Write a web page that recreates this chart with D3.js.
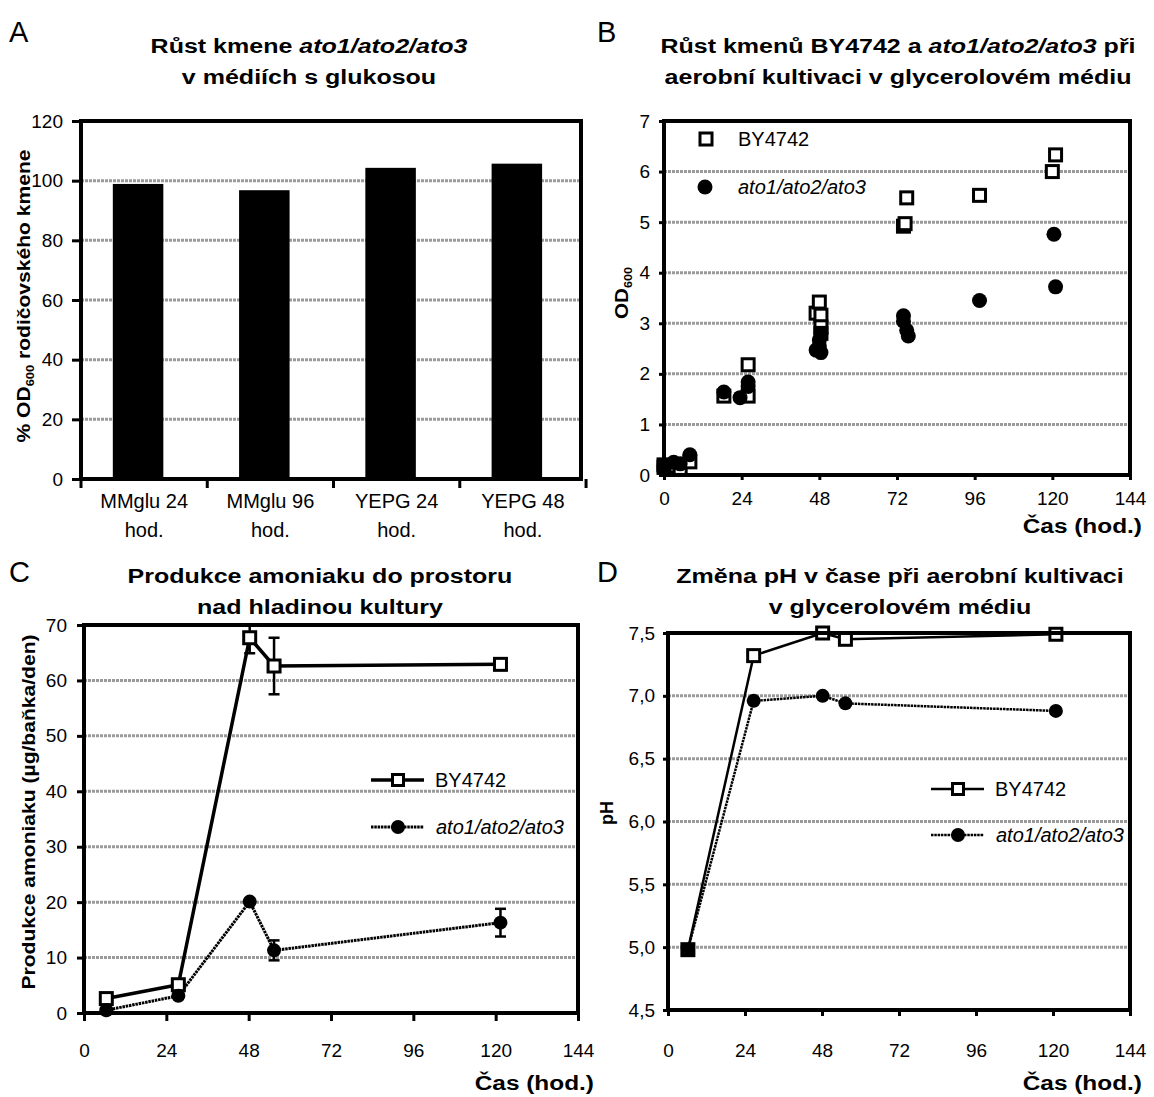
<!DOCTYPE html>
<html>
<head>
<meta charset="utf-8">
<script src="https://cdn.jsdelivr.net/npm/d3@7"></script>
<style>
  body { margin: 0; background: #fff; }
  text { font-family: "Liberation Sans", Arial, sans-serif; fill: #000; }
</style>
</head>
<body>
<script>
// Panel A - growth of ato1/ato2/ato3 in glucose media (% of parent strain OD600)
const catA = [["MMglu 24", "hod."], ["MMglu 96", "hod."], ["YEPG 24", "hod."], ["YEPG 48", "hod."]];
const valA = [98.9, 96.8, 104.3, 105.7];

// Panel B - OD600 in glycerol medium, scatter
const timeBY = [0, 0, 3, 5, 8, 18.5, 26, 26, 47, 48, 48.5, 48.5, 48.5, 74, 74.5, 75, 97.5, 120, 121];
const odBY = [0.2, 0.15, 0.18, 0.13, 0.26, 1.56, 1.56, 2.18, 3.2, 3.42, 3.16, 2.93, 2.8, 4.92, 4.97, 5.48, 5.53, 6.0, 6.33];
const timeAto = [0, 0, 3, 5, 8, 18.5, 23.5, 26, 26, 47, 48, 48, 48.5, 48.5, 74, 74, 75, 75.5, 97.5, 120.5, 121];
const odAto = [0.18, 0.12, 0.25, 0.22, 0.4, 1.64, 1.53, 1.84, 1.75, 2.47, 2.67, 2.55, 2.8, 2.42, 3.15, 3.04, 2.86, 2.75, 3.45, 4.76, 3.72];

// Panel C - ammonia production
const timeC = [6.5, 27.5, 48.3, 55.4, 121.4];
const nh3BY = [2.6, 5.1, 67.7, 62.6, 62.9];
const nh3BYErr = [0.4, 0.4, 2.8, 5.1, 0.4];
const nh3Ato = [0.5, 3.1, 20.1, 11.3, 16.3];
const nh3AtoErr = [0.4, 0.4, 0.5, 1.8, 2.5];

// Panel D - pH
const timeD = [6.2, 26.7, 48.2, 55.3, 120.9];
const phBY = [4.98, 7.32, 7.50, 7.45, 7.49];
const phAto = [4.98, 6.96, 7.00, 6.94, 6.88];

const timeTicks = [0, 24, 48, 72, 96, 120, 144];

const svg = d3.select("body").append("svg")
    .attr("width", 1154)
    .attr("height", 1097);

const FONT = 19;
const GRID = "#9a9a9a";

// widen text the way the original (Excel) rendering does
function stretch(sel, k) {
    sel.each(function() {
        const L = this.getComputedTextLength();
        this.setAttribute("textLength", L * k);
        this.setAttribute("lengthAdjust", "spacingAndGlyphs");
    });
}

// draws gridlines, ticks and tick labels for one panel
function frame(x, y, yTicks, yFmt, opt) {
    const g = svg.append("g");
    const [xl, xr] = x.range();
    const [yb, yt] = y.range();

    g.selectAll(".grid").data(yTicks.filter(d => y(d) > yt + 1 && y(d) < yb - 1))
        .enter().append("line")
        .attr("x1", xl).attr("x2", xr)
        .attr("y1", d => y(d)).attr("y2", d => y(d))
        .style("stroke", GRID).style("stroke-width", 3)
        .style("stroke-dasharray", "3,1");

    const ya = g.append("g")
        .attr("transform", `translate(${xl},0)`)
        .call(d3.axisLeft(y).tickValues(yTicks).tickFormat(yFmt).tickSize(opt.yTick).tickSizeOuter(0));
    ya.select(".domain").remove();
    ya.selectAll(".tick line").style("stroke-width", 3);
    ya.selectAll("text").style("font-size", FONT + "px").attr("x", -opt.yGap);

    if (opt.xTicks) {
        const xa = g.append("g")
            .attr("transform", `translate(0,${yb})`)
            .call(d3.axisBottom(x).tickValues(opt.xTicks).tickSize(opt.xTick).tickSizeOuter(0));
        xa.select(".domain").remove();
        xa.selectAll(".tick line").style("stroke-width", 3);
        xa.selectAll("text").style("font-size", FONT + "px")
            .attr("dy", null).attr("y", opt.xBase);
    }
    return g;
}

function border(x, y) {
    const [xl, xr] = x.range();
    const [yb, yt] = y.range();
    svg.append("rect")
        .attr("x", xl).attr("y", yt)
        .attr("width", xr - xl).attr("height", yb - yt)
        .style("fill", "none").style("stroke", "#000").style("stroke-width", 4);
}

function title(lines, cx, y0) {
    lines.forEach((parts, i) => {
        const t = svg.append("text")
            .attr("x", cx).attr("y", y0 + i * 31)
            .attr("text-anchor", "middle")
            .style("font-size", "20px").style("font-weight", "bold");
        parts.forEach(p => {
            const ts = t.append("tspan").text(p.t);
            if (p.i) ts.style("font-style", "italic");
        });
        stretch(t, 1.25);
    });
}

function letter(s, x, y) {
    svg.append("text").attr("x", x).attr("y", y)
        .style("font-size", "29px").text(s);
}

function xTitle(x, y) {
    const t = svg.append("text")
        .attr("x", x).attr("y", y)
        .attr("text-anchor", "end")
        .style("font-size", "20px").style("font-weight", "bold")
        .text("Čas (hod.)");
    stretch(t, 1.22);
}

function yTitle(x, y) {
    return svg.append("text")
        .attr("transform", `translate(${x},${y}) rotate(-90)`)
        .attr("text-anchor", "middle")
        .style("font-size", "18px").style("font-weight", "bold");
}

function squares(sel, data, size) {
    sel.selectAll(null).data(data).enter().append("rect")
        .attr("x", d => d[0] - size / 2).attr("y", d => d[1] - size / 2)
        .attr("width", size).attr("height", size)
        .style("fill", "#fff").style("stroke", "#000").style("stroke-width", 3);
}

function dots(sel, data, r) {
    sel.selectAll(null).data(data).enter().append("circle")
        .attr("cx", d => d[0]).attr("cy", d => d[1]).attr("r", r)
        .style("fill", "#000");
}

// ---------------- Panel A ----------------
const xA = d3.scaleBand().domain(d3.range(catA.length)).range([81, 581])
    .paddingInner(0.6).paddingOuter(0.28).align(0.45);
const yA = d3.scaleLinear().domain([0, 120]).range([479, 121]);

frame(xA, yA, d3.range(0, 121, 20), d3.format("d"), {yTick: 9, yGap: 18});

svg.append("g").selectAll("rect").data(valA).enter().append("rect")
    .attr("x", (d, i) => xA(i)).attr("width", xA.bandwidth())
    .attr("y", d => yA(d)).attr("height", d => yA(0) - yA(d))
    .style("fill", "#000");

// category boundary ticks
svg.append("g").selectAll("line").data(d3.range(catA.length + 1)).enter().append("line")
    .attr("x1", i => 81 + i * xA.step()).attr("x2", i => 81 + i * xA.step())
    .attr("y1", 479).attr("y2", 488)
    .style("stroke", "#000").style("stroke-width", 3);

const labA = svg.append("g").selectAll("text").data(catA).enter().append("text")
    .attr("text-anchor", "middle")
    .style("font-size", "20px");
labA.append("tspan").attr("x", (d, i) => 81 + (i + 0.5) * xA.step()).attr("y", 508).text(d => d[0]);
labA.append("tspan").attr("x", (d, i) => 81 + (i + 0.5) * xA.step()).attr("y", 537).text(d => d[1]);

border(xA, yA);
letter("A", 9, 42);
title([[{t: "Růst kmene  "}, {t: "ato1/ato2/ato3", i: true}], [{t: "v médiích s glukosou"}]], 309, 53);

const ylabA = yTitle(30, 296);
ylabA.append("tspan").text("% OD");
ylabA.append("tspan").text("600").style("font-size", "11px").attr("dy", 4);
ylabA.append("tspan").text(" rodičovského kmene").attr("dy", -4);
stretch(ylabA, 1.17);

// ---------------- Panel B ----------------
const xB = d3.scaleLinear().domain([0, 144]).range([664, 1130]);
const yB = d3.scaleLinear().domain([0, 7]).range([475, 121]);

frame(xB, yB, d3.range(0, 8), d3.format("d"), {yTick: 5, yGap: 14, xTicks: timeTicks, xTick: 5, xBase: 30});

const gB = svg.append("g");
squares(gB, timeBY.map((t, i) => [xB(t), yB(odBY[i])]), 12);
dots(gB, timeAto.map((t, i) => [xB(t), yB(odAto[i])]), 7.5);

border(xB, yB);
letter("B", 597, 42);
title([[{t: "Růst kmenů BY4742 a "}, {t: "ato1/ato2/ato3", i: true}, {t: " při"}],
       [{t: "aerobní kultivaci v glycerolovém médiu"}]], 898, 53);
xTitle(1142, 533);

const ylabB = yTitle(628, 293);
ylabB.append("tspan").text("OD");
ylabB.append("tspan").text("600").style("font-size", "11px").attr("dy", 4);
stretch(ylabB, 1.15);

// legend B
const legB = svg.append("g");
squares(legB, [[706, 139]], 12);
dots(legB, [[705, 187]], 7.5);
legB.append("text").attr("x", 738).attr("y", 146).style("font-size", "20px").text("BY4742");
legB.append("text").attr("x", 738).attr("y", 194).style("font-size", "20px")
    .style("font-style", "italic").text("ato1/ato2/ato3");

// ---------------- Panel C ----------------
const xC = d3.scaleLinear().domain([0, 144]).range([84, 578]);
const yC = d3.scaleLinear().domain([0, 70]).range([1013, 625]);

frame(xC, yC, d3.range(0, 71, 10), d3.format("d"), {yTick: 7, yGap: 17, xTicks: timeTicks, xTick: 8, xBase: 44});

const lineC = d3.line().x(d => xC(d[0])).y(d => yC(d[1]));
const ptsCBY = timeC.map((t, i) => [t, nh3BY[i], nh3BYErr[i]]);
const ptsCAto = timeC.map((t, i) => [t, nh3Ato[i], nh3AtoErr[i]]);

function errBars(pts, x, y) {
    const g = svg.append("g").style("stroke", "#000").style("stroke-width", 2.5);
    pts.forEach(p => {
        const top = Math.min(p[1] + p[2], y.domain()[1]);
        g.append("line").attr("x1", x(p[0])).attr("x2", x(p[0]))
            .attr("y1", y(p[1] - p[2])).attr("y2", y(top));
        [p[1] - p[2], top].forEach(v => g.append("line")
            .attr("x1", x(p[0]) - 5.5).attr("x2", x(p[0]) + 5.5)
            .attr("y1", y(v)).attr("y2", y(v)));
    });
}

errBars(ptsCBY, xC, yC);
errBars(ptsCAto, xC, yC);

svg.append("path").datum(ptsCBY).attr("d", lineC)
    .style("fill", "none").style("stroke", "#000").style("stroke-width", 3.5);
svg.append("path").datum(ptsCAto).attr("d", lineC)
    .style("fill", "none").style("stroke", "#000").style("stroke-width", 3)
    .style("stroke-dasharray", "2.5,0.8");

squares(svg.append("g"), ptsCBY.map(p => [xC(p[0]), yC(p[1])]), 12);
dots(svg.append("g"), ptsCAto.map(p => [xC(p[0]), yC(p[1])]), 7);

border(xC, yC);
letter("C", 9, 582);
title([[{t: "Produkce amoniaku do prostoru"}], [{t: "nad hladinou kultury"}]], 320, 583);
xTitle(594, 1090);

stretch(yTitle(35, 812).text("Produkce amoniaku (µg/baňka/den)"), 1.17);

function legendLines(lx, ly, gap, thickBY, thickAto) {
    const g = svg.append("g");
    g.append("line").attr("x1", lx).attr("x2", lx + 53).attr("y1", ly).attr("y2", ly)
        .style("stroke", "#000").style("stroke-width", thickBY);
    g.append("line").attr("x1", lx).attr("x2", lx + 53).attr("y1", ly + gap).attr("y2", ly + gap)
        .style("stroke", "#000").style("stroke-width", thickAto).style("stroke-dasharray", "2.5,0.8");
    squares(g, [[lx + 27, ly]], 11);
    dots(g, [[lx + 27, ly + gap]], 7);
    g.append("text").attr("x", lx + 64).attr("y", ly + 7).style("font-size", "20px").text("BY4742");
    g.append("text").attr("x", lx + 65).attr("y", ly + gap + 7).style("font-size", "20px")
        .style("font-style", "italic").text("ato1/ato2/ato3");
}

legendLines(371, 780, 47, 3.5, 3);

// ---------------- Panel D ----------------
const xD = d3.scaleLinear().domain([0, 144]).range([668, 1130]);
const yD = d3.scaleLinear().domain([4.5, 7.5]).range([1010, 633]);

frame(xD, yD, d3.range(4.5, 7.51, 0.5), d => d3.format(".1f")(d).replace(".", ","),
    {yTick: 5, yGap: 13, xTicks: timeTicks, xTick: 6, xBase: 47});

const lineD = d3.line().x(d => xD(d[0])).y(d => yD(d[1]));
const ptsDBY = timeD.map((t, i) => [t, phBY[i]]);
const ptsDAto = timeD.map((t, i) => [t, phAto[i]]);

svg.append("path").datum(ptsDBY).attr("d", lineD)
    .style("fill", "none").style("stroke", "#000").style("stroke-width", 2.5);
svg.append("path").datum(ptsDAto).attr("d", lineD)
    .style("fill", "none").style("stroke", "#000").style("stroke-width", 2.5)
    .style("stroke-dasharray", "2.5,0.8");

squares(svg.append("g"), ptsDBY.map(p => [xD(p[0]), yD(p[1])]), 12);
dots(svg.append("g"), ptsDAto.map(p => [xD(p[0]), yD(p[1])]), 7);

border(xD, yD);
letter("D", 597, 582);
title([[{t: "Změna pH v čase při aerobní kultivaci"}], [{t: "v glycerolovém médiu"}]], 900, 583);
xTitle(1142, 1090);

yTitle(613, 813).text("pH");

legendLines(931, 789, 46, 2.5, 2.5);
</script>
</body>
</html>
